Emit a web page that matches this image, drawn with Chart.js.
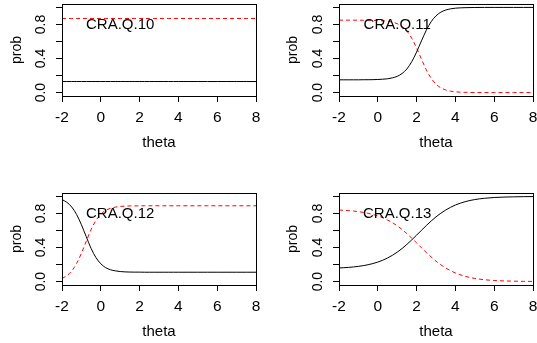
<!DOCTYPE html>
<html>
<head>
<meta charset="utf-8">
<script src="https://cdn.jsdelivr.net/npm/chart.js@4.4.0/dist/chart.umd.min.js"></script>
<style>
  html, body { margin: 0; padding: 0; background: #fff; }
  #wrap { position: relative; width: 537px; height: 343px; overflow: hidden; }
  canvas { position: absolute; }
</style>
</head>
<body>
<div id="wrap">
  <canvas id="q10" width="268" height="170" style="left:0px;top:0px"></canvas>
  <canvas id="q11" width="269" height="170" style="left:268px;top:0px"></canvas>
  <canvas id="q12" width="268" height="173" style="left:0px;top:170px"></canvas>
  <canvas id="q13" width="269" height="173" style="left:268px;top:170px"></canvas>
</div>
<script>
// theta grid shared by all four items
const theta = [-2, -1.75, -1.5, -1.25, -1, -0.75, -0.5, -0.25, 0, 0.25, 0.5, 0.75, 1, 1.25, 1.5, 1.75,
               2, 2.25, 2.5, 2.75, 3, 3.25, 3.5, 3.75, 4, 4.5, 5, 5.5, 6, 6.5, 7, 7.5, 8];

// black solid curve / red dashed curve
const q10Black = [0.13, 0.13, 0.13, 0.13, 0.13, 0.13, 0.13, 0.13, 0.13, 0.13, 0.13, 0.13, 0.13, 0.13, 0.13, 0.13,
                  0.13, 0.13, 0.13, 0.13, 0.13, 0.13, 0.13, 0.13, 0.13, 0.13, 0.13, 0.13, 0.13, 0.13, 0.13, 0.13, 0.13];
const q10Red   = [0.87, 0.87, 0.87, 0.87, 0.87, 0.87, 0.87, 0.87, 0.87, 0.87, 0.87, 0.87, 0.87, 0.87, 0.87, 0.87,
                  0.87, 0.87, 0.87, 0.87, 0.87, 0.87, 0.87, 0.87, 0.87, 0.87, 0.87, 0.87, 0.87, 0.87, 0.87, 0.87, 0.87];

const q11Black = [0.150, 0.150, 0.150, 0.150, 0.150, 0.151, 0.151, 0.152, 0.154, 0.157, 0.162, 0.173, 0.191, 0.224, 0.278, 0.363,
                  0.476, 0.607, 0.732, 0.832, 0.901, 0.944, 0.969, 0.983, 0.991, 0.997, 0.999, 1.0, 1.0, 1.0, 1.0, 1.0, 1.0];
const q11Red   = [0.850, 0.850, 0.850, 0.850, 0.850, 0.849, 0.849, 0.848, 0.846, 0.843, 0.838, 0.827, 0.809, 0.776, 0.722, 0.637,
                  0.524, 0.393, 0.268, 0.168, 0.099, 0.056, 0.031, 0.017, 0.009, 0.003, 0.001, 0, 0, 0, 0, 0, 0];

const q12Black = [0.963, 0.931, 0.876, 0.789, 0.668, 0.527, 0.389, 0.282, 0.209, 0.164, 0.139, 0.126, 0.118, 0.114, 0.112, 0.111,
                  0.111, 0.110, 0.110, 0.110, 0.110, 0.110, 0.110, 0.110, 0.110, 0.110, 0.110, 0.110, 0.110, 0.110, 0.110, 0.110, 0.110];
const q12Red   = [0.037, 0.069, 0.124, 0.211, 0.332, 0.473, 0.611, 0.718, 0.791, 0.836, 0.861, 0.874, 0.882, 0.886, 0.888, 0.889,
                  0.889, 0.890, 0.890, 0.890, 0.890, 0.890, 0.890, 0.890, 0.890, 0.890, 0.890, 0.890, 0.890, 0.890, 0.890, 0.890, 0.890];

const q13Black = [0.160, 0.163, 0.167, 0.172, 0.179, 0.187, 0.198, 0.212, 0.229, 0.250, 0.277, 0.308, 0.345, 0.388, 0.437, 0.490,
                  0.545, 0.602, 0.658, 0.711, 0.760, 0.803, 0.840, 0.872, 0.899, 0.938, 0.963, 0.978, 0.987, 0.992, 0.995, 0.997, 0.998];
const q13Red   = [0.840, 0.837, 0.833, 0.828, 0.821, 0.813, 0.802, 0.788, 0.771, 0.750, 0.723, 0.692, 0.655, 0.612, 0.563, 0.510,
                  0.455, 0.398, 0.342, 0.289, 0.240, 0.197, 0.160, 0.128, 0.101, 0.062, 0.037, 0.022, 0.013, 0.008, 0.005, 0.003, 0.002];

const xTicks = [-2, 0, 2, 4, 6, 8];
const xTickLabels = ['-2', '0', '2', '4', '6', '8'];
const yTicks = [0, 0.2, 0.4, 0.6, 0.8, 1.0];
const yTickLabels = ['0.0', '', '0.4', '', '0.8', ''];

const FONT = "'Liberation Sans', Arial, Helvetica, sans-serif";

// R style box around the plot region + item name at (1, 0.8)
const boxAndLabel = {
  id: 'boxAndLabel',
  afterDatasetsDraw(chart) {
    const { ctx, chartArea: a, scales } = chart;
    ctx.save();
    ctx.strokeStyle = '#000';
    ctx.lineWidth = 1;
    ctx.strokeRect(Math.round(a.left) + 0.5, Math.round(a.top) + 0.5,
                   Math.round(a.right - a.left), Math.round(a.bottom - a.top));
    ctx.fillStyle = '#000';
    ctx.font = '15px ' + FONT;
    ctx.textAlign = 'center';
    ctx.textBaseline = 'middle';
    ctx.fillText(chart.options.itemName, scales.x.getPixelForValue(1), scales.y.getPixelForValue(0.8));
    ctx.restore();
  }
};

function makePanel(id, name, black, red, padding, yWidth) {
  const ctx = document.getElementById(id);
  new Chart(ctx, {
    type: 'line',
    data: {
      datasets: [{
        data: theta.map((t, i) => ({ x: t, y: black[i] })),
        borderColor: '#000000',
        borderWidth: 1,
        pointRadius: 0,
        cubicInterpolationMode: 'monotone'
      }, {
        data: theta.map((t, i) => ({ x: t, y: red[i] })),
        borderColor: '#ff0000',
        borderWidth: 1,
        borderDash: [4, 3],
        pointRadius: 0,
        cubicInterpolationMode: 'monotone'
      }]
    },
    options: {
      itemName: name,
      responsive: false,
      animation: false,
      layout: { padding: padding },
      plugins: { legend: { display: false }, tooltip: { enabled: false } },
      scales: {
        x: {
          type: 'linear',
          min: -2,
          max: 8,
          afterBuildTicks: s => { s.ticks = xTicks.map(v => ({ value: v })); },
          afterFit: s => { s.height = 56; s.paddingLeft = 0; s.paddingRight = 0; },
          border: { display: false },
          grid: { drawOnChartArea: false, tickLength: 6, color: '#000' },
          ticks: {
            color: '#000', padding: 6, maxRotation: 0, autoSkip: false,
            font: { family: FONT, size: 15.5 },
            callback: (v, i) => xTickLabels[i]
          },
          title: { display: true, text: 'theta', color: '#000', padding: 0, font: { family: FONT, size: 15 } }
        },
        y: {
          type: 'linear',
          min: -0.04,
          max: 1.04,
          afterBuildTicks: s => { s.ticks = yTicks.map(v => ({ value: v })); },
          afterFit: s => { s.width = yWidth; s.paddingTop = 0; s.paddingBottom = 0; },
          border: { display: false },
          grid: { drawOnChartArea: false, tickLength: 6, color: '#000' },
          ticks: {
            color: '#000', padding: 5, minRotation: 90, maxRotation: 90, crossAlign: 'center', autoSkip: false,
            font: { family: FONT, size: 14 },
            callback: (v, i) => yTickLabels[i]
          },
          title: { display: true, text: 'prob', color: '#000', padding: { top: 9, bottom: 0 }, font: { family: FONT, size: 14 } }
        }
      }
    },
    plugins: [boxAndLabel]
  });
}

makePanel('q10', 'CRA.Q.10', q10Black, q10Red, { left: 0, top: 4, right: 12, bottom: 18 }, 62);
makePanel('q11', 'CRA.Q.11', q11Black, q11Red, { left: 8, top: 4, right: 4, bottom: 18 }, 63);
makePanel('q12', 'CRA.Q.12', q12Black, q12Red, { left: 0, top: 23, right: 12, bottom: 2 }, 62);
makePanel('q13', 'CRA.Q.13', q13Black, q13Red, { left: 8, top: 23, right: 4, bottom: 2 }, 63);
</script>
</body>
</html>
